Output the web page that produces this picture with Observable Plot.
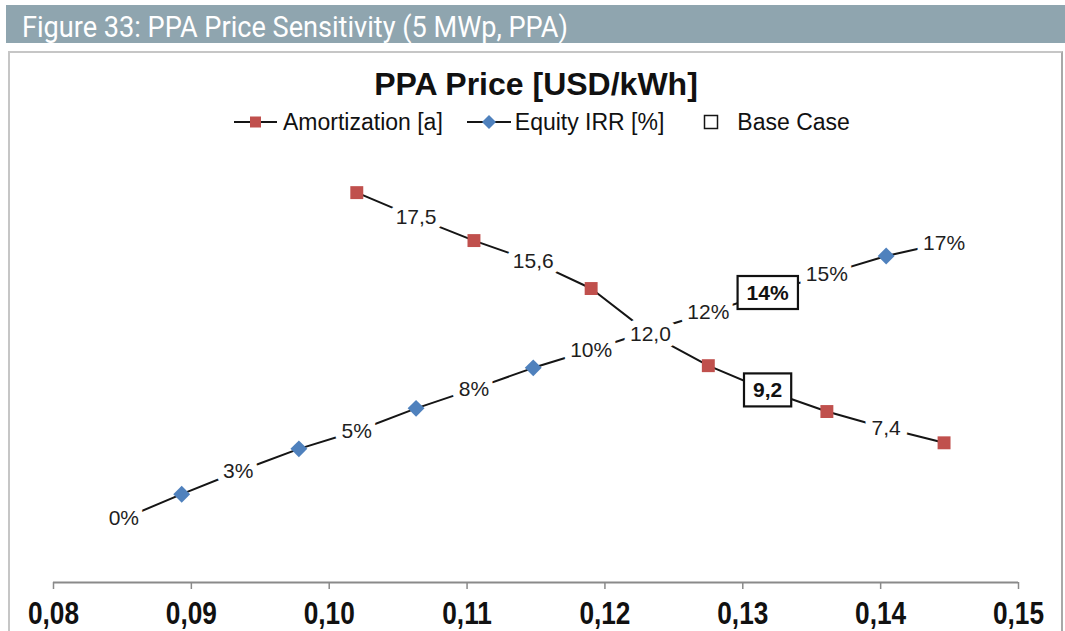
<!DOCTYPE html>
<html>
<head>
<meta charset="utf-8">
<script src="https://cdn.jsdelivr.net/npm/d3@7"></script>
<script src="https://cdn.jsdelivr.net/npm/@observablehq/plot@0.6"></script>
<style>
  html, body { margin: 0; padding: 0; background: #fff; }
  body { width: 1065px; height: 631px; position: relative; overflow: hidden;
         font-family: "Liberation Sans", Arial, sans-serif; color: #111; }
  #header { position: absolute; left: 6px; top: 5px; width: 1059px; height: 38px; background: #8fa5af; }
  #header span { position: absolute; left: 16px; top: 3px; line-height: 38px; color: #fff;
                 font-family: Roboto, "Noto Sans", sans-serif; font-weight: 400; font-size: 30px;
                 white-space: nowrap; transform-origin: left center; }
  #box { position: absolute; left: 8px; top: 51px; width: 1055px; height: 640px;
         border: 2px solid #c6c6c6; border-right-color: #a8a8a8; box-sizing: border-box; }
  #title { position: absolute; left: 0; width: 1072px; top: 66px; text-align: center;
           font-weight: bold; font-size: 32px; line-height: 36px; color: #111; }
  #legend { position: absolute; top: 110px; left: 234px; height: 24px; display: flex; align-items: center;
            font-size: 23px; color: #111; white-space: nowrap; }
  #legend svg { display: block; }
  #chart { position: absolute; left: 0; top: 140px; }
</style>
</head>
<body>
<div id="header"><span id="headerText">Figure 33: PPA Price Sensitivity (5 MWp, PPA)</span></div>
<div id="box"></div>
<div id="title">PPA Price [USD/kWh]</div>
<div id="legend"></div>
<div id="chart"></div>
<script>
// ---- data ----
const price = [0.0851, 0.0893, 0.0934, 0.0978, 0.1020, 0.1063, 0.1105, 0.1148,
               0.1190, 0.1233, 0.1275, 0.1318, 0.1361, 0.1404, 0.1446];
const amortization = [null, null, null, null, 18.7, 17.5, 16.4, 15.4, 14.1, 11.9, 10.4, 9.2, 8.2, 7.4, 6.7];
const amortLabels  = ["", "", "", "", "", "17,5", "", "15,6", "", "12,0", "", "9,2", "", "7,4", ""];
const equityIrr = [0.0, 1.5, 2.9, 4.3, 5.4, 6.8, 8.0, 9.3, 10.4, 11.6, 12.7, 13.9, 15.1, 16.2, 17.0];
const irrLabels = ["0%", "", "3%", "", "5%", "", "8%", "", "10%", "", "12%", "14%", "15%", "", "17%"];
const baseCaseIndex = 11;
const xTicks = [0.08, 0.09, 0.10, 0.11, 0.12, 0.13, 0.14, 0.15];
const seriesNames = ["Amortization [a]", "Equity IRR [%]", "Base Case"];
// hidden primary (years) and secondary (IRR %) axis ranges
const amortAxis = [0, 21.2];
const irrAxis = [-3.95, 23.33];

// ---- header width fit (condensed face) ----
const ht = document.getElementById("headerText");
ht.style.transform = `scaleX(${546 / ht.getBoundingClientRect().width})`;

// ---- legend ----
const RED = "#c0504d", BLUE = "#4f81bd", INK = "#151515";
document.getElementById("legend").innerHTML = `
  <svg width="43" height="20"><line x1="0" y1="10" x2="43" y2="10" stroke="${INK}" stroke-width="2"/>
    <rect x="16" y="4.5" width="11" height="11" fill="${RED}"/></svg>
  <span style="margin-left:6px">${seriesNames[0]}</span>
  <svg width="44" height="20" style="margin-left:24px"><line x1="0" y1="10" x2="44" y2="10" stroke="${INK}" stroke-width="2"/>
    <polygon points="22,3 29,10 22,17 15,10" fill="${BLUE}"/></svg>
  <span style="margin-left:4px">${seriesNames[1]}</span>
  <svg width="16" height="20" style="margin-left:39px"><rect x="1.5" y="3.5" width="13" height="13" fill="white" stroke="${INK}" stroke-width="1.5"/></svg>
  <span style="margin-left:18px">${seriesNames[2]}</span>`;

// ---- chart ----
const irrToAxis = d3.scaleLinear(irrAxis, amortAxis);
const amortRows = price.map((p, i) => ({price: p, value: amortization[i], label: amortLabels[i], base: i === baseCaseIndex}))
                       .filter(d => d.value != null);
const irrRows = price.map((p, i) => ({price: p, value: irrToAxis(equityIrr[i]), label: irrLabels[i], base: i === baseCaseIndex}));
const allRows = [...amortRows, ...irrRows];

const labelStyle = {x: "price", y: "value", text: "label", fontSize: 21, fill: "#1e1e1e",
                    stroke: "white", strokeWidth: 14, fontFamily: "'Liberation Sans', Arial, sans-serif"};

const chart = Plot.plot({
  width: 1065,
  height: 491,
  marginLeft: 53,
  marginRight: 47,
  marginTop: 0,
  marginBottom: 49,
  style: {background: "transparent", overflow: "visible"},
  x: {domain: [0.08, 0.15], label: null},
  y: {domain: amortAxis, axis: null},
  marks: [
    Plot.ruleY([0], {stroke: "#8a8a8a", strokeWidth: 2}),
    Plot.axisX({
      ticks: xTicks,
      tickFormat: d => d.toFixed(2).replace(".", ","),
      tickSize: 7, tickPadding: 12, label: null,
      stroke: "#8a8a8a", strokeWidth: 1.5,
      fill: "#111", fontSize: 32, fontWeight: "bold",
      fontFamily: "'Liberation Sans', Arial, sans-serif"
    }),
    Plot.line(amortRows, {x: "price", y: "value", stroke: INK, strokeWidth: 2}),
    Plot.line(irrRows, {x: "price", y: "value", stroke: INK, strokeWidth: 2}),
    Plot.dot(amortRows.filter(d => !d.label), {x: "price", y: "value", symbol: "square", r: 7.3, fill: RED}),
    Plot.dot(irrRows.filter(d => !d.label), {x: "price", y: "value", symbol: "diamond2", r: 7.6, fill: BLUE}),
    Plot.text(allRows.filter(d => d.label && !d.base), labelStyle),
    Plot.text(allRows.filter(d => d.base), {x: "price", y: "value", text: "label", fontSize: 21,
      fontWeight: "bold", fill: "#111", fontFamily: "'Liberation Sans', Arial, sans-serif",
      ariaLabel: () => "base-case"})
  ]
});
document.getElementById("chart").append(chart);

// condense the bold tick labels horizontally (narrow face look)
chart.querySelectorAll('g[aria-label="x-axis tick label"] text').forEach(t => {
  const tr = t.getAttribute("transform") || "";
  t.setAttribute("transform", tr + " scale(0.82,1)");
});

// frame the base-case labels with a box
chart.querySelectorAll('text[aria-label="base-case"]').forEach(t => {
  const b = t.getBBox();
  const r = document.createElementNS("http://www.w3.org/2000/svg", "rect");
  r.setAttribute("x", b.x - 9);
  r.setAttribute("y", b.y - 5);
  r.setAttribute("width", b.width + 18);
  r.setAttribute("height", b.height + 10);
  r.setAttribute("fill", "white");
  r.setAttribute("stroke", "#111");
  r.setAttribute("stroke-width", 2.2);
  const tr = t.getAttribute("transform");
  if (tr) r.setAttribute("transform", tr);
  t.parentNode.insertBefore(r, t);
});
</script>
</body>
</html>
